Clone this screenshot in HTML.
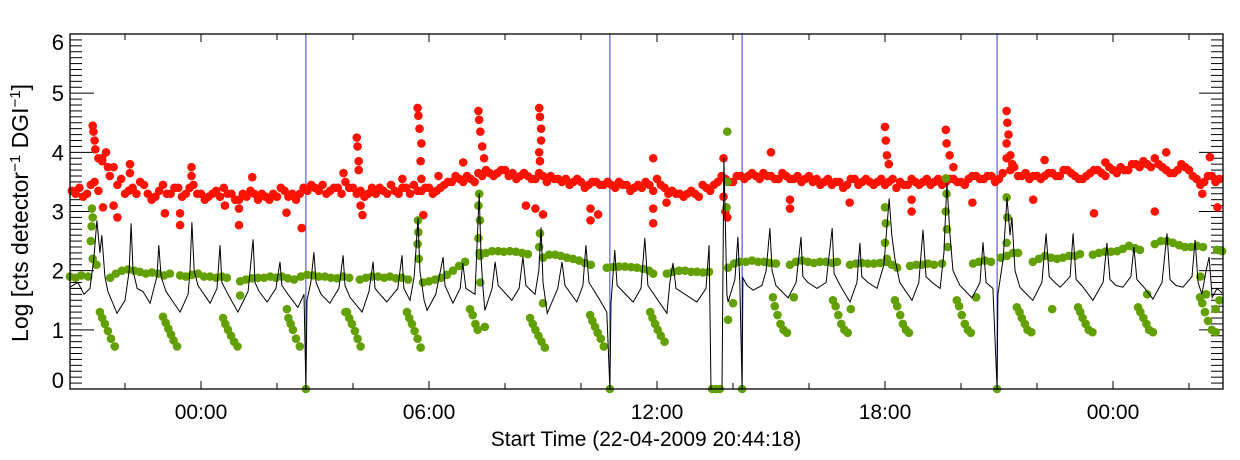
<!DOCTYPE html>
<html><head><meta charset="utf-8"><style>
html,body{margin:0;padding:0;background:#fff;}
svg{display:block;font-family:"Liberation Sans",sans-serif;}
</style></head><body>
<svg id="chart" width="1240" height="460" viewBox="0 0 1240 460">
<g id="grid"></g>
<g id="marks"></g>
<rect x="70" y="34" width="1153" height="355" fill="none" stroke="#000" stroke-width="1.3"/>
<text x="28" y="213" font-size="23" text-anchor="middle" transform="rotate(-90 28 213)">Log [cts detector<tspan dy="-8" font-size="15">−1</tspan><tspan dy="8"> DGI</tspan><tspan dy="-8" font-size="15">−1</tspan><tspan dy="8">]</tspan></text>
<text x="646" y="446" font-size="21" text-anchor="middle">Start Time (22-04-2009 20:44:18)</text>
</svg>
<script>
// ---- data (hours relative to 00:00 of 23-04-2009) ----
const yTickLabels = ["0","1","2","3","4","5","6"];
const xTickHours = [0, 6, 12, 18, 24];
const xTickLabels = ["00:00","06:00","12:00","18:00","00:00"];
const markerHours = [2.76, 10.76, 14.24, 20.95];
const redStartA = -3.4, redStartB = -3.3, redCadence = 0.2;
const redA = [3.35,3.4,3.3,3.5,3.9, 3.6,3.45,3.3,3.4,3.5, 3.3,3.25,3.45,3.3,3.4, 3.3,3.45,3.3,3.25,3.35, 3.4,3.3,3.2,3.25,3.3, 3.3,3.2,3.25,3.35,3.3, 3.3,3.35,3.4,3.45,3.35, 3.4,3.5,3.4,3.35,3.3, 3.3,3.35,3.45,3.3,3.4, 3.45,3.35,3.4,3.35,3.45, 3.5,3.55,3.6,3.5,3.6, 3.65,3.65,3.7,3.65,3.6, 3.6,3.55,3.6,3.6,3.55, 3.55,3.5,3.5,3.45,3.5, 3.45,3.45,3.5,3.45,3.4, 3.4,3.45,3.55,3.4,3.35, 3.3,3.3,3.3,3.45,3.35, 3.5,3.55,3.5,3.6,3.6, 3.6,3.65,3.6,3.55,3.6, 3.55,3.5,3.6,3.55,3.5, 3.45,3.5,3.45,3.55,3.5, 3.5,3.5,3.45,3.55,3.5, 3.45,3.5,3.5,3.45,3.55, 3.5,3.55,3.5,3.55,3.6, 3.55,3.6,3.55,3.9,3.75, 3.6,3.55,3.6,3.6,3.65, 3.6,3.7,3.6,3.55,3.65, 3.7,3.6,3.7,3.75,3.7, 3.8,3.85,3.75,3.8,3.7, 3.65,3.8,3.7,3.55,3.5, 3.6,3.55];
const redB = [3.3,3.25,3.45,3.35,4.0, 3.75,3.55,3.35,3.3,3.45, 3.2,3.35,3.3,3.4,3.25, 3.4,3.3,3.2,3.3,3.25, 3.3,3.2,3.3,3.35,3.2, 3.25,3.3,3.4,3.25,3.2, 3.4,3.45,3.35,3.3,3.4, 3.3,3.4,3.3,3.25,3.4, 3.4,3.3,3.35,3.4,3.3, 3.35,3.4,3.3,3.4,3.5, 3.6,3.5,3.55,3.65,3.7, 3.6,3.7,3.6,3.55,3.65, 3.55,3.65,3.5,3.55,3.5, 3.45,3.55,3.4,3.5,3.45, 3.5,3.4,3.45,3.35,3.45, 3.5,3.35,3.45,3.3,3.3, 3.25,3.35,3.25,3.4,3.45, 3.6,3.5,3.6,3.55,3.65, 3.55,3.6,3.55,3.65,3.55, 3.6,3.55,3.5,3.45,3.55, 3.5,3.4,3.55,3.45,3.55, 3.45,3.55,3.5,3.4,3.45, 3.55,3.45,3.55,3.5,3.45, 3.55,3.5,3.45,3.6,3.55, 3.6,3.5,3.65,3.7,3.6, 3.65,3.6,3.55,3.65,3.6, 3.7,3.65,3.55,3.6,3.7, 3.65,3.75,3.65,3.7,3.8, 3.75,3.8,3.9,3.75,3.65, 3.7,3.75,3.6,3.45,3.6, 3.5];
const redExtra = [[-2.85,4.45],[-2.83,4.35],[-2.8,4.2],[-2.78,4.05],[-2.7,3.9],[-2.6,3.85],[-2.45,3.75],[-2.58,3.07],[-2.2,2.9],[-2.3,3.1],[-1.87,3.8],[-1.87,3.65],[-0.95,2.97],[-0.55,2.97],[-0.55,2.77],[-0.25,3.75],[-0.25,3.6],[0.63,3.1],[1.0,3.05],[1.0,2.77],[1.35,3.58],[2.25,2.98],[2.65,2.72],[3.75,3.65],[4.1,4.25],[4.12,4.1],[4.15,3.85],[4.15,3.7],[4.25,2.94],[4.2,3.1],[5.3,3.55],[5.7,4.75],[5.72,4.62],[5.75,4.4],[5.8,4.15],[5.78,3.85],[5.8,3.55],[5.85,2.94],[6.25,3.6],[6.9,3.83],[7.3,4.7],[7.32,4.55],[7.35,4.35],[7.4,4.1],[7.45,3.9],[8.55,3.1],[8.9,4.75],[8.92,4.6],[8.95,4.4],[8.95,4.2],[8.9,4.0],[8.92,3.85],[9.0,2.95],[8.8,3.05],[10.25,3.05],[10.25,2.85],[10.45,2.95],[11.9,3.9],[11.9,3.05],[11.9,2.8],[12.25,3.15],[13.75,3.9],[13.75,3.25],[13.8,3.0],[13.85,2.9],[15.0,4.0],[15.5,3.2],[15.5,3.05],[17.07,3.15],[18.0,4.43],[18.02,4.2],[18.05,3.95],[18.1,3.8],[18.7,3.2],[18.7,3.0],[19.6,4.38],[19.62,4.15],[19.7,3.95],[19.8,3.75],[20.3,3.15],[21.2,4.7],[21.22,4.5],[21.25,4.3],[21.2,4.15],[21.3,3.95],[21.35,3.8],[21.9,3.2],[22.2,3.87],[23.5,2.97],[23.8,3.83],[25.1,3.0],[25.4,4.0],[26.55,3.92],[26.35,3.3],[26.75,3.07]];
const greenBand = [[-3.45,1.9],[-3.3,1.88],[-3.15,1.92],[-2.97,1.9],[-2.39,1.88],[-2.24,1.95],[-2.08,2.0],[-1.92,2.02],[-1.76,2.0],[-1.61,1.98],[-1.45,1.95],[-1.29,1.97],[-1.13,1.95],[-0.97,1.92],[-0.82,1.95],[-0.55,1.92],[-0.4,1.9],[-0.24,1.93],[-0.08,1.95],[0.08,1.9],[0.24,1.9],[0.4,1.88],[0.55,1.9],[0.68,1.88],[1.03,1.82],[1.18,1.85],[1.34,1.87],[1.5,1.88],[1.66,1.88],[1.82,1.9],[1.97,1.88],[2.13,1.9],[2.29,1.87],[2.45,1.85],[2.63,1.9],[2.79,1.93],[2.95,1.92],[3.1,1.9],[3.26,1.9],[3.42,1.88],[3.58,1.87],[3.74,1.9],[3.9,1.88],[4.18,1.85],[4.34,1.88],[4.5,1.9],[4.66,1.9],[4.82,1.88],[4.97,1.9],[5.13,1.87],[5.29,1.88],[5.45,1.85],[5.84,1.8],[6.0,1.82],[6.16,1.85],[6.32,1.88],[6.47,1.93],[6.63,2.0],[6.79,2.08],[6.95,2.15],[7.34,2.25],[7.5,2.3],[7.66,2.33],[7.82,2.33],[7.97,2.32],[8.13,2.33],[8.29,2.32],[8.45,2.3],[8.6,2.28],[9.0,2.22],[9.16,2.27],[9.32,2.27],[9.47,2.25],[9.63,2.22],[9.79,2.2],[9.95,2.17],[10.1,2.13],[10.26,2.1],[10.68,2.05],[10.84,2.06],[11.0,2.07],[11.16,2.07],[11.32,2.06],[11.47,2.05],[11.63,2.03],[11.79,2.0],[11.9,1.95],[12.26,1.95],[12.42,1.98],[12.58,2.0],[12.74,2.0],[12.9,1.98],[13.05,1.98],[13.21,1.97],[13.37,1.98],[13.87,2.05],[14.03,2.12],[14.18,2.15],[14.34,2.15],[14.5,2.17],[14.66,2.15],[14.82,2.15],[14.97,2.13],[15.13,2.12],[15.5,2.1],[15.66,2.15],[15.82,2.17],[15.97,2.15],[16.13,2.13],[16.29,2.15],[16.45,2.15],[16.61,2.13],[16.74,2.15],[17.08,2.1],[17.24,2.12],[17.39,2.13],[17.55,2.12],[17.71,2.12],[17.87,2.13],[18.03,2.15],[18.18,2.1],[18.32,2.05],[18.66,2.08],[18.82,2.1],[18.97,2.1],[19.13,2.12],[19.29,2.1],[19.5,2.12],[20.32,2.12],[20.47,2.15],[20.63,2.17],[20.79,2.15],[21.05,2.22],[21.21,2.25],[21.37,2.3],[21.5,2.3],[21.89,2.15],[22.05,2.2],[22.21,2.25],[22.37,2.22],[22.53,2.2],[22.68,2.22],[22.84,2.25],[23.0,2.25],[23.13,2.28],[23.47,2.27],[23.63,2.3],[23.79,2.32],[23.95,2.32],[24.11,2.33],[24.26,2.37],[24.42,2.42],[24.58,2.38],[24.71,2.35],[25.1,2.45],[25.26,2.5],[25.42,2.5],[25.58,2.47],[25.74,2.43],[25.89,2.4],[26.05,2.4],[26.21,2.42],[26.37,2.4],[26.74,2.35],[26.87,2.33]];
const greenDiag = [[-2.66,1.3],[-2.6,1.2],[-2.53,1.1],[-2.45,0.98],[-2.37,0.85],[-2.27,0.72],[-1.0,1.22],[-0.93,1.12],[-0.86,1.02],[-0.79,0.92],[-0.72,0.82],[-0.63,0.72],[0.58,1.2],[0.64,1.1],[0.71,1.0],[0.79,0.9],[0.87,0.8],[0.96,0.72],[2.26,1.35],[2.3,1.2],[2.36,1.1],[2.42,1.0],[2.5,0.85],[2.6,0.72],[3.84,1.3],[3.9,1.2],[3.97,1.1],[4.05,0.98],[4.12,0.85],[4.2,0.72],[5.42,1.3],[5.48,1.2],[5.55,1.1],[5.62,0.98],[5.7,0.85],[5.78,0.7],[7.08,1.35],[7.15,1.25],[7.22,1.1],[7.28,1.0],[8.66,1.2],[8.73,1.1],[8.8,1.0],[8.88,0.9],[8.96,0.8],[9.05,0.7],[10.24,1.25],[10.3,1.15],[10.37,1.05],[10.44,0.95],[10.52,0.85],[10.6,0.72],[11.82,1.3],[11.88,1.2],[11.95,1.1],[12.02,1.0],[12.1,0.9],[12.2,0.8],[13.87,1.17],[15.05,1.55],[15.1,1.4],[15.17,1.25],[15.25,1.1],[15.33,1.0],[15.42,0.95],[16.63,1.5],[16.7,1.4],[16.77,1.25],[16.85,1.1],[16.93,1.0],[17.02,0.95],[18.26,1.5],[18.32,1.4],[18.4,1.25],[18.47,1.1],[18.55,1.0],[18.63,0.95],[19.89,1.5],[19.95,1.4],[20.02,1.25],[20.1,1.1],[20.18,1.0],[20.26,0.95],[21.47,1.38],[21.54,1.3],[21.6,1.2],[21.68,1.1],[21.75,1.0],[21.85,0.96],[23.08,1.38],[23.14,1.3],[23.2,1.2],[23.28,1.1],[23.36,1.0],[23.46,0.96],[24.66,1.38],[24.72,1.3],[24.8,1.2],[24.88,1.1],[24.95,1.0],[25.05,0.96],[26.29,1.55],[26.35,1.45],[26.42,1.3],[26.5,1.15],[26.6,1.0],[26.7,0.96],[26.45,1.6],[26.7,1.35],[26.8,1.5]];
const greenExtra = [[-2.87,3.05],[-2.85,2.9],[-2.88,2.75],[-2.9,2.5],[-2.85,2.2],[-2.75,2.1],[5.71,2.85],[5.72,2.65],[5.7,2.45],[5.73,2.2],[7.32,3.3],[7.3,3.1],[7.34,2.85],[7.3,2.55],[7.33,2.3],[7.35,1.8],[8.92,2.63],[8.9,2.4],[13.85,4.35],[13.85,3.5],[13.83,3.07],[18.0,3.07],[18.02,2.8],[18.0,2.47],[18.05,2.2],[19.6,3.56],[19.62,3.3],[19.6,3.0],[19.63,2.7],[19.65,2.4],[21.2,3.24],[21.22,2.9],[21.2,2.47],[1.03,1.58],[7.47,1.05],[3.8,1.3],[9.0,1.45],[14.0,1.45],[15.6,1.55],[17.1,1.35],[20.4,1.55],[22.4,1.35],[24.9,1.6],[26.3,1.9],[2.76,0],[10.76,0],[13.45,0],[13.55,0],[13.65,0],[14.24,0],[20.95,0]];
const blackLine = [[-3.45,1.72],[-3.24,1.8],[-3.08,1.6],[-2.92,1.7],[-2.82,2.2],[-2.74,2.85],[-2.66,2.3],[-2.61,2.6],[-2.53,1.9],[-2.45,1.65],[-2.21,1.28],[-2.0,1.5],[-1.89,2.0],[-1.84,2.8],[-1.79,2.0],[-1.68,1.7],[-1.53,1.65],[-1.34,1.45],[-1.16,1.9],[-1.11,2.43],[-1.05,1.9],[-0.92,1.65],[-0.55,1.3],[-0.34,1.6],[-0.29,2.0],[-0.24,2.82],[-0.18,2.0],[-0.08,1.75],[0.24,1.45],[0.42,1.7],[0.5,2.43],[0.55,1.8],[0.71,1.6],[0.97,1.3],[1.24,1.65],[1.37,2.53],[1.42,1.8],[1.53,1.65],[1.74,1.47],[1.97,1.7],[2.08,2.15],[2.13,1.75],[2.29,1.6],[2.55,1.38],[2.71,1.6],[2.76,0],[2.79,1.5],[2.89,1.8],[2.97,2.31],[3.03,1.8],[3.16,1.6],[3.39,1.45],[3.63,1.7],[3.74,2.26],[3.79,1.75],[3.92,1.55],[4.24,1.3],[4.42,1.65],[4.53,2.15],[4.58,1.7],[4.71,1.6],[4.89,1.47],[5.18,1.7],[5.29,2.26],[5.34,1.7],[5.5,1.5],[5.61,1.9],[5.71,2.89],[5.76,2.0],[5.87,1.5],[5.95,1.33],[6.18,1.6],[6.37,2.23],[6.42,1.75],[6.63,1.45],[6.82,1.7],[6.89,2.13],[6.97,1.7],[7.21,1.6],[7.32,3.31],[7.37,2.2],[7.42,1.7],[7.47,1.33],[7.66,1.7],[7.74,2.15],[7.82,1.75],[8.18,1.5],[8.37,1.7],[8.47,2.23],[8.55,1.75],[8.79,1.6],[8.89,2.0],[8.95,2.73],[9.0,1.8],[9.11,1.28],[9.39,1.7],[9.5,2.15],[9.58,1.75],[9.89,1.47],[10.05,1.75],[10.13,2.43],[10.21,1.8],[10.5,1.5],[10.68,1.3],[10.76,0],[10.79,1.45],[10.84,1.9],[10.89,2.35],[10.95,1.75],[11.37,1.47],[11.58,1.7],[11.68,2.55],[11.76,1.75],[12.26,1.28],[12.34,1.8],[12.42,2.13],[12.5,1.7],[13.05,1.47],[13.29,1.7],[13.37,2.43],[13.42,0],[13.71,0],[13.76,3.9],[13.84,1.6],[13.87,1.47],[14.05,1.85],[14.13,2.57],[14.18,1.8],[14.24,0],[14.26,1.88],[14.37,1.75],[14.53,1.67],[14.76,1.75],[14.87,2.0],[14.97,2.72],[15.03,2.0],[15.13,1.75],[15.45,1.54],[15.66,1.8],[15.79,2.57],[15.84,1.9],[15.97,1.8],[16.21,1.7],[16.45,1.8],[16.61,2.72],[16.66,1.95],[16.82,1.75],[17.08,1.47],[17.26,1.8],[17.34,2.47],[17.39,1.9],[17.55,1.8],[17.79,1.7],[17.97,2.1],[18.11,3.22],[18.18,2.6],[18.26,2.2],[18.39,1.8],[18.71,1.5],[18.89,1.8],[19.0,2.69],[19.08,1.9],[19.24,1.8],[19.45,1.7],[19.55,2.3],[19.63,3.48],[19.71,2.6],[19.79,2.0],[19.97,1.75],[20.29,1.54],[20.5,1.8],[20.58,2.48],[20.66,1.8],[20.84,1.7],[20.95,0],[20.97,1.6],[21.11,2.2],[21.21,3.24],[21.29,2.6],[21.34,2.9],[21.42,2.0],[21.55,1.72],[21.89,1.5],[22.13,1.8],[22.24,2.63],[22.32,1.9],[22.47,1.8],[22.61,1.72],[22.87,1.9],[22.95,2.63],[23.03,1.85],[23.18,1.75],[23.47,1.5],[23.74,1.8],[23.84,2.47],[23.92,1.85],[24.08,1.75],[24.26,1.72],[24.47,1.9],[24.55,2.4],[24.63,1.85],[24.84,1.7],[25.05,1.52],[25.29,1.8],[25.42,2.63],[25.5,1.85],[25.66,1.75],[25.84,1.72],[26.08,1.9],[26.16,2.52],[26.24,1.8],[26.34,1.6],[26.45,2.0],[26.53,2.23],[26.61,1.55],[26.74,1.7],[26.87,1.62]];

// ---- scales ----
const X0 = 70, X1 = 1223, Y0 = 389, Y1 = 34;
function xs(h){ return 201 + 38*h; }
function ys(v){ return Y0 - (Y0 - Y1) * v / 6; }
const NS = "http://www.w3.org/2000/svg";
const grid = document.getElementById('grid');
const marks = document.getElementById('marks');
function mk(tag, attrs, parent){ const e = document.createElementNS(NS, tag); for (const k in attrs) e.setAttribute(k, attrs[k]); parent.appendChild(e); return e; }

// y ticks
for (let i = 0; i <= 60; i++) {
  const y = ys(i/10), major = i % 10 === 0, len = major ? 24 : 12;
  const t1 = mk('line', {x1:X0, x2:X0+len, y1:y, y2:y, stroke:'#000', 'stroke-width':1}, grid);
  
  
  const t2 = mk('line', {x1:X1-len, x2:X1, y1:y, y2:y, stroke:'#000', 'stroke-width':1}, grid);
  
  
}
yTickLabels.forEach((lab, i) => {
  let off = 8;
  if (i === 0) off = -1;
  if (i === yTickLabels.length - 1) off = 16;
  const t = mk('text', {x:64, y:ys(i)+off, 'font-size':22, 'text-anchor':'end'}, grid);
  t.textContent = lab;
  
  
});
// x ticks (every 2 h)
for (let h = -2; h <= 26; h += 2) {
  const x = xs(h), major = h % 6 === 0, len = major ? 8 : 6;
  const a = mk('line', {x1:x, x2:x, y1:Y0, y2:Y0-len, stroke:'#000', 'stroke-width':1}, grid);
  
  
  const b = mk('line', {x1:x, x2:x, y1:Y1, y2:Y1+len, stroke:'#000', 'stroke-width':1}, grid);
  
  
}
xTickHours.forEach((h, i) => {
  const t = mk('text', {x:xs(h), y:419, 'font-size':21, 'text-anchor':'middle'}, grid);
  t.textContent = xTickLabels[i];
  
  
});
// marker lines
markerHours.forEach(h => {
  const l = mk('line', {x1:xs(h), x2:xs(h), y1:Y1, y2:Y0, stroke:'#3838d8', 'stroke-width':1}, marks);
  
  
});
function dot(h, v, color, name){
  const c = mk('circle', {cx:xs(h), cy:ys(v), r:4.3, fill:color}, marks);
  
  
}
// red points
redA.forEach((v, i) => dot(redStartA + redCadence*i, v, '#ff1200', 'red-point'));
redB.forEach((v, i) => dot(redStartB + redCadence*i, v, '#ff1200', 'red-point'));
redExtra.forEach(p => dot(p[0], p[1], '#ff1200', 'red-point'));
// green points
greenBand.forEach(p => dot(p[0], p[1], '#62a000', 'green-point'));
greenDiag.forEach(p => dot(p[0], p[1], '#62a000', 'green-point'));
greenExtra.forEach(p => dot(p[0], p[1], '#62a000', 'green-point'));
// black line
const d = blackLine.map((p, i) => (i ? 'L' : 'M') + xs(p[0]).toFixed(1) + ' ' + ys(p[1]).toFixed(1)).join(' ');
const path = mk('path', {d:d, fill:'none', stroke:'#000', 'stroke-width':1}, marks);


</script>
</body></html>
